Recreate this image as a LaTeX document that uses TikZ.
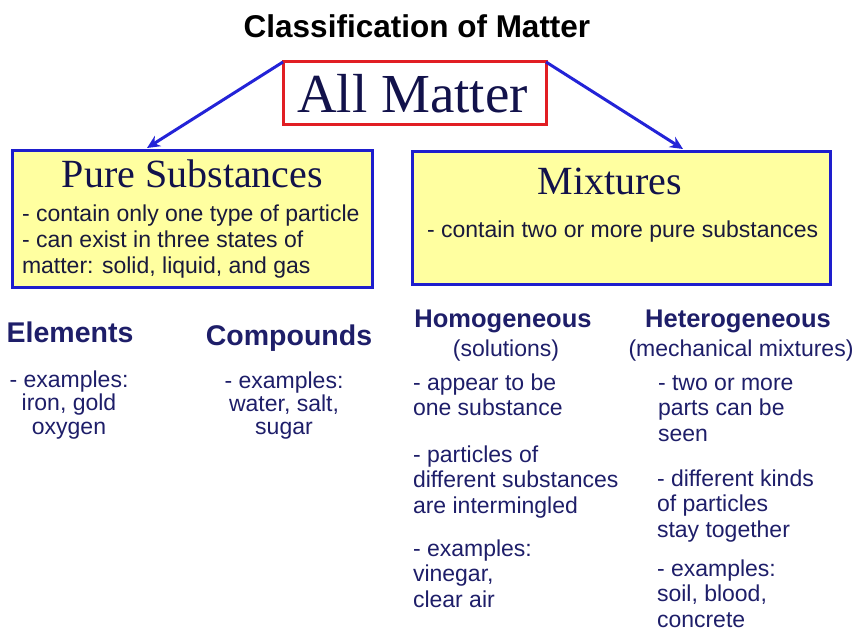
\documentclass[tikz,border=0pt]{standalone}
\usepackage{fontspec}
\setmainfont{Liberation Sans}
\newfontfamily\serifx{Liberation Serif}
\usetikzlibrary{arrows.meta}
\definecolor{navy}{RGB}{30,30,105}
\definecolor{ink}{RGB}{25,25,60}
\definecolor{titlenavy}{RGB}{18,18,75}
\definecolor{boxblue}{RGB}{30,30,205}
\definecolor{arrblue}{RGB}{35,35,215}
\definecolor{pale}{RGB}{255,255,160}
\definecolor{redb}{RGB}{225,30,35}
\begin{document}
\begin{tikzpicture}[x=1pt,y=1pt,
  every node/.style={inner sep=0pt, outer sep=0pt},
  box/.style={draw=boxblue, line width=3pt, fill=pale, anchor=north west},
  arr/.style={draw=arrblue, line width=3pt, -{Stealth[length=13pt,width=12pt]}},
  sertitle/.style={font=\serifx\fontsize{40}{44}\selectfont, text=titlenavy, anchor=base},
  boxtext/.style={font=\fontsize{23}{26}\selectfont, text=ink, align=left, anchor=base west},
  head/.style={font=\bfseries\fontsize{28.5}{32}\selectfont, text=navy, anchor=base},
  subhead/.style={font=\bfseries\fontsize{25.5}{30}\selectfont, text=navy, anchor=base},
  body/.style={font=\fontsize{23}{25.5}\selectfont, text=navy, align=left, anchor=base west},
  bodyc/.style={font=\fontsize{23}{23.5}\selectfont, text=navy, align=center, anchor=base}
]
\useasboundingbox (0,0) rectangle (855,-631);

\node[font=\bfseries\fontsize{31.5}{36}\selectfont, anchor=base] (title) at (417,-38) {Classification of Matter};

\node[draw=redb, line width=3pt, minimum width=263pt, minimum height=63pt, anchor=north west] (allm) at (283,-62) {};
\node[font=\serifx\fontsize{55}{60}\selectfont, text=titlenavy, anchor=base] (allmt) at (412.5,-113) {All Matter};

\node[box, minimum width=360pt, minimum height=137pt] (pure) at (12,-151) {};
\node[box, minimum width=418pt, minimum height=133pt] (mix) at (412,-152) {};

\draw[arr] (allm.north west) -- ([xshift=135pt,yshift=3pt]pure.north west);
\draw[arr] (allm.north east) -- ([xshift=271pt,yshift=3pt]mix.north west);

\node[sertitle] (puret) at (192.5,-188) {Pure Substances};
\node[boxtext] (pureb) at (22,-274) {- contain only one type of particle\\- can exist in three states of\\matter: solid, liquid, and gas};
\node[sertitle] (mixt) at (610,-195) {Mixtures};
\node[boxtext] (mixb) at (427,-238) {- contain two or more pure substances};

\node[head] (elem) at (70,-343) {Elements};
\node[head] (comp) at (289,-345) {Compounds};
\node[bodyc] (eleme) at (69,-434) {- examples:\\iron, gold\\oxygen};
\node[bodyc] (compe) at (284,-435) {- examples:\\water, salt,\\sugar};

\node[subhead] (homo) at (503,-328) {Homogeneous};
\node[subhead] (hete) at (738,-328) {Heterogeneous};
\node[font=\fontsize{23}{26}\selectfont, text=navy, anchor=base] (homos) at (506,-357) {(solutions)};
\node[font=\fontsize{23}{26}\selectfont, text=navy, anchor=base] (hetes) at (741,-357) {(mechanical mixtures)};

\node[body] (ho1) at (413,-415.5) {- appear to be\\one substance};
\node[body] (ho2) at (413,-513) {- particles of\\different substances\\are intermingled};
\node[body] (ho3) at (413,-607) {- examples:\\vinegar,\\clear air};

\node[body] (he1) at (658,-441) {- two or more\\parts can be\\seen};
\node[body] (he2) at (657,-537) {- different kinds\\of particles\\stay together};
\node[body] (he3) at (657,-627) {- examples:\\soil, blood,\\concrete};
\end{tikzpicture}
\end{document}
